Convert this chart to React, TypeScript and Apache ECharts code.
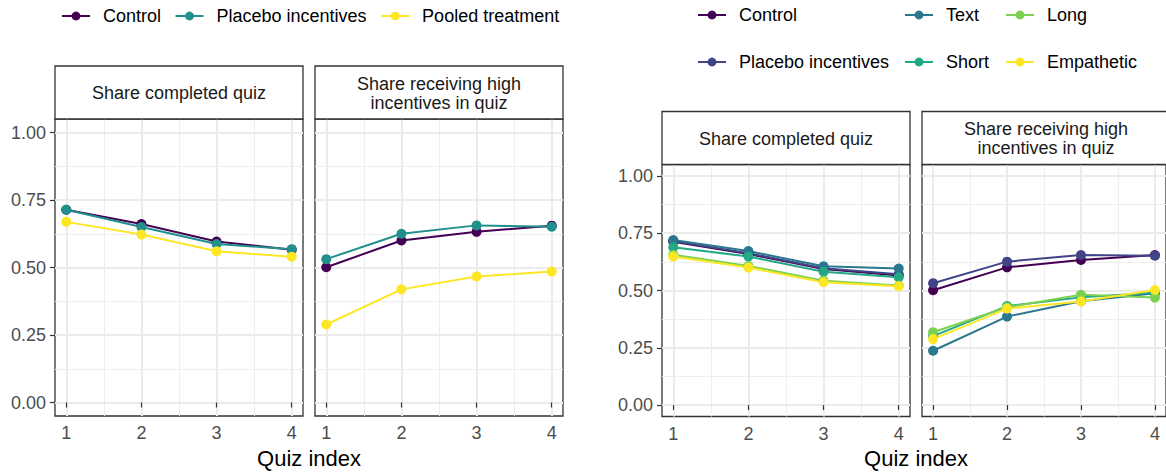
import React, { useEffect, useRef } from "react";
import * as echarts from "echarts";

const QUIZ = [1, 2, 3, 4];
const X_TICKS = [1, 2, 3, 4];
const X_MINOR = [1.5, 2.5, 3.5];
const Y_TICKS = [0, 0.25, 0.5, 0.75, 1];
const Y_MINOR = [0.125, 0.375, 0.625, 0.875];

const FACET_COMPLETED = "Share completed quiz";
const FACET_HIGH = "Share receiving high\nincentives in quiz";
const X_TITLE = "Quiz index";

// Left figure
const L_CTRL_COMP = [0.714, 0.661, 0.596, 0.566];
const L_PLAC_COMP = [0.714, 0.65, 0.587, 0.568];
const L_POOL_COMP = [0.669, 0.622, 0.56, 0.54];
const L_CTRL_HIGH = [0.501, 0.6, 0.632, 0.655];
const L_PLAC_HIGH = [0.531, 0.625, 0.656, 0.651];
const L_POOL_HIGH = [0.289, 0.419, 0.467, 0.485];

// Right figure
const R_CTRL_COMP = [0.713, 0.659, 0.594, 0.566];
const R_PLAC_COMP = [0.716, 0.663, 0.597, 0.571];
const R_TEXT_COMP = [0.72, 0.672, 0.606, 0.596];
const R_SHORT_COMP = [0.689, 0.648, 0.582, 0.558];
const R_LONG_COMP = [0.656, 0.607, 0.543, 0.522];
const R_EMP_COMP = [0.648, 0.6, 0.536, 0.519];
const R_CTRL_HIGH = [0.501, 0.601, 0.633, 0.655];
const R_PLAC_HIGH = [0.532, 0.626, 0.655, 0.652];
const R_TEXT_HIGH = [0.237, 0.386, 0.453, 0.488];
const R_SHORT_HIGH = [0.301, 0.432, 0.47, 0.49];
const R_LONG_HIGH = [0.318, 0.427, 0.481, 0.469];
const R_EMP_HIGH = [0.288, 0.421, 0.452, 0.502];

const LEFT_GROUPS = ["Control", "Placebo incentives", "Pooled treatment"];
const LEFT_COLORS = ["#440154", "#21908C", "#FDE725"];
const RIGHT_GROUPS = ["Control", "Placebo incentives", "Text", "Short", "Long", "Empathetic"];
const RIGHT_COLORS = ["#440154", "#414487", "#2A788E", "#22A884", "#7AD151", "#FDE725"];

const FONT = '"Liberation Sans", Arial, Helvetica, sans-serif';

export default function App() {
  const ref = useRef<HTMLDivElement>(null);

  useEffect(() => {
    if (!ref.current) return;
    const chart = echarts.init(ref.current, undefined, { renderer: "svg" });

    const grids = [
      { left: 55, top: 119, width: 248, height: 297 },
      { left: 315, top: 119, width: 248, height: 297 },
      { left: 662, top: 164.5, width: 248, height: 252 },
      { left: 922, top: 164.5, width: 248, height: 252 },
    ];

    const xAxes: any[] = [];
    const yAxes: any[] = [];
    grids.forEach((g, i) => {
      xAxes.push({
        type: "value",
        gridIndex: i,
        min: 0.85,
        max: 4.15,
        axisLine: { show: false },
        axisTick: { show: true, customValues: X_TICKS, length: 5, lineStyle: { color: "#333333", width: 1.2 } },
        axisLabel: { customValues: X_TICKS, fontSize: 18, color: "#4D4D4D", margin: 8, fontFamily: FONT },
        splitLine: { show: true, lineStyle: { color: "#EBEBEB", width: 2 } },
      });
      xAxes.push({
        type: "value",
        gridIndex: i,
        min: 0.85,
        max: 4.15,
        axisLine: { show: false },
        axisTick: { show: false, customValues: X_MINOR },
        axisLabel: { show: false },
        splitLine: { show: true, lineStyle: { color: "#EEEEEE", width: 1 } },
      });
      const showY = i === 0 || i === 2;
      yAxes.push({
        type: "value",
        gridIndex: i,
        min: -0.05,
        max: 1.05,
        axisLine: { show: false },
        axisTick: { show: showY, customValues: Y_TICKS, length: 5, lineStyle: { color: "#333333", width: 1.2 } },
        axisLabel: {
          show: showY,
          customValues: Y_TICKS,
          fontSize: 18,
          color: "#4D4D4D",
          margin: 9,
          fontFamily: FONT,
          formatter: (v: number) => v.toFixed(2),
        },
        splitLine: { show: true, lineStyle: { color: "#EBEBEB", width: 2 } },
      });
      yAxes.push({
        type: "value",
        gridIndex: i,
        min: -0.05,
        max: 1.05,
        axisLine: { show: false },
        axisTick: { show: false, customValues: Y_MINOR },
        axisLabel: { show: false },
        splitLine: { show: true, lineStyle: { color: "#EEEEEE", width: 1 } },
      });
    });

    const mk = (name: string, color: string, vals: number[], gi: number) => ({
      type: "line",
      name,
      xAxisIndex: gi * 2,
      yAxisIndex: gi * 2,
      data: QUIZ.map((q, k) => [q, vals[k]]),
      symbol: "circle",
      symbolSize: 10,
      lineStyle: { color, width: 2 },
      itemStyle: { color },
      z: 3,
    });

    const leftComp = [L_CTRL_COMP, L_PLAC_COMP, L_POOL_COMP];
    const leftHigh = [L_CTRL_HIGH, L_PLAC_HIGH, L_POOL_HIGH];
    const rightComp = [R_CTRL_COMP, R_PLAC_COMP, R_TEXT_COMP, R_SHORT_COMP, R_LONG_COMP, R_EMP_COMP];
    const rightHigh = [R_CTRL_HIGH, R_PLAC_HIGH, R_TEXT_HIGH, R_SHORT_HIGH, R_LONG_HIGH, R_EMP_HIGH];

    const series: any[] = [];
    LEFT_GROUPS.forEach((n, k) => series.push(mk(n, LEFT_COLORS[k], leftComp[k], 0)));
    LEFT_GROUPS.forEach((n, k) => series.push(mk(n, LEFT_COLORS[k], leftHigh[k], 1)));
    RIGHT_GROUPS.forEach((n, k) => series.push(mk(n, RIGHT_COLORS[k], rightComp[k], 2)));
    RIGHT_GROUPS.forEach((n, k) => series.push(mk(n, RIGHT_COLORS[k], rightHigh[k], 3)));

    const legendBase = {
      orient: "horizontal",
      padding: 0,
      itemWidth: 28,
      itemHeight: 11,
      selectedMode: false,
      textStyle: { fontSize: 18, color: "#000000", fontFamily: FONT, padding: [0, 0, 0, 8] },
    };

    const legends: any[] = [
      {
        ...legendBase,
        left: 61,
        top: 7,
        itemGap: 13.5,
        data: LEFT_GROUPS.map((n, k) => ({
          name: n,
          itemStyle: { color: LEFT_COLORS[k] },
          lineStyle: { color: LEFT_COLORS[k], width: 2 },
        })),
      },
    ];
    const rightCols = [697, 904, 1005];
    const rightRows = [6, 53];
    RIGHT_GROUPS.forEach((n, k) => {
      const col = Math.floor(k / 2);
      const row = k % 2;
      legends.push({
        ...legendBase,
        left: rightCols[col],
        top: rightRows[row],
        data: [
          {
            name: n,
            itemStyle: { color: RIGHT_COLORS[k] },
            lineStyle: { color: RIGHT_COLORS[k], width: 2 },
          },
        ],
      });
    });

    const graphics: any[] = [];
    const strips = [
      { g: grids[0], y: 66, text: FACET_COMPLETED },
      { g: grids[1], y: 66, text: FACET_HIGH },
      { g: grids[2], y: 111.5, text: FACET_COMPLETED },
      { g: grids[3], y: 111.5, text: FACET_HIGH },
    ];
    strips.forEach((s) => {
      const h = s.g.top - s.y;
      graphics.push({
        type: "rect",
        shape: { x: s.g.left, y: s.y, width: s.g.width, height: h },
        style: { fill: "#FFFFFF", stroke: "#333333", lineWidth: 1.3 },
        z: 10,
      });
      graphics.push({
        type: "text",
        x: s.g.left + s.g.width / 2,
        y: s.y + h / 2 + 0.5,
        style: {
          text: s.text,
          align: "center",
          verticalAlign: "middle",
          fontSize: 18,
          lineHeight: 19,
          fontFamily: FONT,
          fill: "#1A1A1A",
        },
        z: 11,
      });
    });
    [
      (grids[0].left + grids[1].left + grids[1].width) / 2,
      (grids[2].left + grids[3].left + grids[3].width) / 2,
    ].forEach((cx) => {
      graphics.push({
        type: "text",
        x: cx,
        y: 458,
        style: {
          text: X_TITLE,
          align: "center",
          verticalAlign: "middle",
          fontSize: 22,
          fontFamily: FONT,
          fill: "#000000",
        },
      });
    });

    chart.setOption({
      animation: false,
      backgroundColor: "#FFFFFF",
      textStyle: { fontFamily: FONT },
      grid: grids.map((g) => ({
        ...g,
        show: true,
        borderColor: "#333333",
        borderWidth: 1.3,
        backgroundColor: "transparent",
        containLabel: false,
      })),
      xAxis: xAxes,
      yAxis: yAxes,
      legend: legends,
      series,
      graphic: graphics,
    });

    return () => chart.dispose();
  }, []);

  return (
    <div
      ref={ref}
      style={{ position: "fixed", left: 0, top: 0, width: 1166, height: 473, background: "#fff" }}
    />
  );
}
